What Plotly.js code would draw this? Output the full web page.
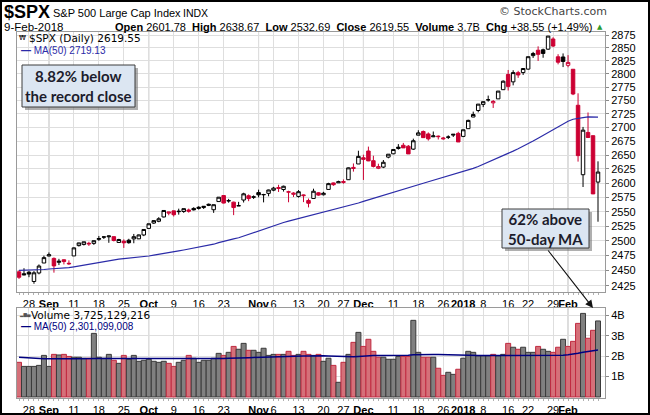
<!DOCTYPE html>
<html><head><meta charset="utf-8">
<script src="https://cdn.plot.ly/plotly-3.0.1.min.js"></script>
<style>
html,body{margin:0;padding:0;background:#fff;}
#wrap{position:relative;width:650px;height:415px;}
#chart{width:650px;height:415px;}
#frame{position:absolute;left:0;top:0;width:650px;height:415px;box-sizing:border-box;border:2px solid #000;pointer-events:none;}
</style>
</head><body><div id="wrap"><div id="chart"></div><div id="frame"></div></div>
<script>
// ---- data ----
const dates = ['2017-08-24','2017-08-25','2017-08-28','2017-08-29','2017-08-30','2017-08-31',
'2017-09-01','2017-09-05','2017-09-06','2017-09-07','2017-09-08','2017-09-11','2017-09-12','2017-09-13','2017-09-14','2017-09-15','2017-09-18','2017-09-19','2017-09-20','2017-09-21','2017-09-22','2017-09-25','2017-09-26','2017-09-27','2017-09-28','2017-09-29',
'2017-10-02','2017-10-03','2017-10-04','2017-10-05','2017-10-06','2017-10-09','2017-10-10','2017-10-11','2017-10-12','2017-10-13','2017-10-16','2017-10-17','2017-10-18','2017-10-19','2017-10-20','2017-10-23','2017-10-24','2017-10-25','2017-10-26','2017-10-27','2017-10-30','2017-10-31',
'2017-11-01','2017-11-02','2017-11-03','2017-11-06','2017-11-07','2017-11-08','2017-11-09','2017-11-10','2017-11-13','2017-11-14','2017-11-15','2017-11-16','2017-11-17','2017-11-20','2017-11-21','2017-11-22','2017-11-24','2017-11-27','2017-11-28','2017-11-29','2017-11-30',
'2017-12-01','2017-12-04','2017-12-05','2017-12-06','2017-12-07','2017-12-08','2017-12-11','2017-12-12','2017-12-13','2017-12-14','2017-12-15','2017-12-18','2017-12-19','2017-12-20','2017-12-21','2017-12-22','2017-12-26','2017-12-27','2017-12-28','2017-12-29',
'2018-01-02','2018-01-03','2018-01-04','2018-01-05','2018-01-08','2018-01-09','2018-01-10','2018-01-11','2018-01-12','2018-01-16','2018-01-17','2018-01-18','2018-01-19','2018-01-22','2018-01-23','2018-01-24','2018-01-25','2018-01-26','2018-01-29','2018-01-30','2018-01-31',
'2018-02-01','2018-02-02','2018-02-05','2018-02-06','2018-02-07','2018-02-08','2018-02-09'];

const opens = [2447.91,2444.72,2447.35,2431.94,2446.06,2462.65,
2474.42,2470.35,2463.83,2468.06,2462.25,2474.52,2491.94,2493.89,2494.56,2495.67,2502.51,2506.29,2506.84,2507.16,2497.26,2499.39,2501.04,2503.30,2503.41,2509.96,
2521.20,2530.34,2533.48,2540.86,2547.44,2551.39,2549.99,2550.34,2552.88,2555.66,2555.57,2557.17,2562.87,2553.39,2567.56,2578.08,2568.66,2566.52,2560.08,2570.26,2577.75,2575.99,
2583.21,2579.46,2581.93,2587.47,2592.11,2588.71,2584.00,2580.18,2576.53,2577.75,2569.45,2572.95,2582.94,2579.49,2588.79,2600.31,2600.42,2602.66,2605.94,2627.82,2633.93,
2645.10,2657.19,2639.78,2626.24,2628.38,2646.21,2652.19,2661.73,2667.59,2665.87,2660.63,2685.92,2692.71,2688.18,2683.02,2684.22,2679.09,2682.10,2686.10,2689.15,
2683.73,2697.85,2719.31,2731.33,2742.67,2751.15,2745.55,2752.97,2770.18,2798.96,2784.99,2802.40,2802.60,2809.16,2835.05,2845.42,2846.24,2847.48,2867.23,2832.74,2832.41,
2816.45,2808.92,2741.06,2614.78,2690.95,2685.01,2601.78];

const highs = [2450.39,2453.96,2449.12,2449.19,2460.31,2475.01,
2480.38,2471.97,2469.64,2468.62,2467.11,2488.95,2496.77,2498.37,2498.43,2500.23,2508.32,2507.84,2508.85,2507.16,2503.47,2502.54,2503.51,2511.75,2510.81,2519.44,
2529.23,2535.13,2540.53,2552.51,2549.41,2551.82,2555.23,2555.24,2555.33,2557.65,2559.47,2559.71,2564.11,2562.36,2575.44,2578.29,2572.18,2567.40,2567.07,2582.98,2580.03,2578.29,
2588.40,2581.11,2588.42,2593.38,2597.02,2595.47,2586.50,2583.81,2587.66,2579.66,2572.84,2590.09,2583.96,2584.64,2600.48,2600.94,2604.21,2606.41,2627.69,2634.89,2657.74,
2650.62,2665.19,2648.72,2634.41,2640.99,2651.65,2660.33,2669.72,2671.88,2668.09,2679.63,2694.97,2694.44,2691.01,2692.64,2685.35,2682.74,2685.64,2687.66,2692.12,
2695.89,2714.37,2729.29,2743.45,2748.51,2759.14,2750.80,2767.56,2787.85,2807.54,2807.04,2805.83,2810.33,2833.03,2842.24,2852.97,2848.56,2872.87,2870.62,2837.75,2839.26,
2835.96,2808.92,2763.39,2701.04,2727.67,2685.27,2638.67];

const lows = [2436.19,2442.22,2439.03,2428.20,2443.77,2462.65,
2473.85,2446.55,2459.20,2460.29,2459.40,2474.52,2490.37,2492.14,2491.35,2493.16,2499.92,2503.19,2496.67,2499.00,2496.54,2488.03,2495.12,2495.91,2502.93,2507.99,
2520.40,2528.85,2531.80,2540.02,2543.79,2541.60,2544.86,2547.95,2548.31,2552.09,2553.59,2554.69,2559.67,2547.92,2567.56,2564.33,2565.58,2544.00,2559.80,2565.94,2568.25,2572.15,
2574.92,2566.17,2576.77,2585.66,2584.35,2585.02,2566.33,2575.57,2574.48,2566.56,2557.45,2572.95,2577.62,2578.24,2588.79,2595.23,2600.42,2598.87,2605.44,2620.32,2633.93,
2605.52,2639.03,2627.73,2624.75,2626.53,2644.10,2651.47,2659.78,2662.85,2652.01,2659.14,2685.92,2680.74,2676.11,2682.40,2678.13,2677.96,2678.91,2682.69,2673.61,
2682.36,2697.77,2719.07,2727.92,2737.60,2747.86,2736.06,2752.78,2769.64,2768.64,2778.38,2792.56,2798.08,2808.12,2830.59,2824.81,2830.94,2846.18,2851.48,2818.27,2813.04,
2812.70,2759.97,2638.17,2593.07,2681.33,2580.56,2532.69];

const closes = [2438.97,2443.05,2444.24,2446.30,2457.59,2471.65,
2476.55,2457.85,2465.54,2465.10,2461.43,2488.11,2496.48,2498.37,2495.62,2500.23,2503.87,2506.65,2508.24,2500.60,2502.22,2496.66,2496.84,2507.04,2510.06,2519.36,
2529.12,2534.58,2537.74,2552.07,2549.33,2544.73,2550.64,2555.24,2550.93,2553.17,2557.64,2559.36,2561.26,2562.10,2575.21,2564.98,2569.13,2557.15,2560.40,2581.07,2572.83,2575.26,
2579.36,2579.85,2587.84,2591.13,2590.64,2594.38,2584.62,2582.30,2584.84,2578.87,2564.62,2585.64,2578.85,2582.14,2599.03,2597.08,2602.42,2601.42,2627.04,2626.07,2647.58,
2642.22,2639.44,2629.57,2629.27,2636.98,2651.50,2659.99,2664.11,2662.85,2652.01,2675.81,2690.16,2681.47,2679.25,2684.57,2683.34,2680.50,2682.62,2687.54,2673.61,
2695.81,2713.06,2723.99,2743.15,2747.71,2751.29,2748.23,2767.56,2786.24,2776.42,2802.56,2798.03,2810.30,2832.97,2839.13,2837.54,2839.25,2872.87,2853.53,2822.43,2823.81,
2821.98,2762.13,2648.94,2695.14,2681.66,2581.00,2619.55];

const closeBeforeFirst = 2444.04;

// 50-day simple moving average of the close
const priceMA50 = [2450.38,2450.59,2450.82,2450.67,2451.08,2451.80,
2452.65,2453.04,2453.57,2454.48,2454.90,2456.26,2457.72,2459.11,2460.37,2462.18,2463.76,2465.34,2467.00,2468.14,2469.23,2469.98,2470.73,2471.66,2472.39,2473.30,
2474.44,2475.73,2476.94,2478.43,2479.90,2481.36,2482.96,2484.54,2486.01,2487.63,2489.24,2490.81,2492.54,2494.30,2497.04,2499.52,2501.58,2503.43,2505.28,2508.30,2511.24,2514.18,
2516.72,2519.44,2522.41,2525.37,2528.30,2531.26,2533.80,2536.02,2538.18,2540.60,2542.59,2545.00,2547.34,2549.23,2551.28,2553.25,2555.39,2557.41,2559.87,2562.26,2565.05,
2567.88,2570.63,2573.28,2575.93,2578.53,2581.36,2584.17,2586.87,2589.44,2591.72,2594.20,2597.01,2599.75,2602.32,2604.91,2607.56,2610.10,2612.60,2615.17,2617.41,
2620.09,2622.84,2626.02,2629.51,2633.32,2637.13,2640.48,2644.37,2648.59,2652.53,2656.99,2661.19,2665.57,2670.42,2675.32,2680.37,2685.51,2691.27,2696.77,2701.92,2706.69,
2711.55,2715.15,2716.15,2718.11,2719.69,2719.28,2719.13];

// volume, billions of shares
const volumes = [1.70,1.50,1.50,1.50,1.55,2.04,
1.50,2.09,2.06,2.09,1.99,1.95,1.95,1.90,1.90,3.12,1.95,1.90,2.09,1.80,1.65,2.04,1.85,2.04,1.75,1.80,
1.85,1.75,1.70,1.75,1.65,1.50,1.70,1.80,2.04,1.90,1.70,1.80,1.80,1.90,2.14,2.04,2.19,2.48,2.34,2.63,2.29,2.29,
2.19,2.39,2.04,2.09,2.09,2.09,2.24,2.04,2.09,2.24,2.09,2.04,2.09,1.75,1.90,1.55,0.72,1.70,2.09,2.68,3.17,
2.48,2.83,2.24,1.95,1.95,1.85,1.85,1.99,1.99,1.99,3.76,2.19,1.95,1.95,1.95,1.41,1.06,1.21,1.11,1.36,
1.90,2.24,2.19,2.02,2.02,2.02,2.09,2.02,2.09,2.63,2.44,2.34,2.44,2.19,2.19,2.48,2.34,2.24,2.19,2.44,2.83,
2.48,2.73,3.61,4.10,2.88,3.27,3.73];

const volumeMA50 = [1.95,1.93,1.91,1.89,1.88,1.88,
1.88,1.87,1.87,1.87,1.87,1.87,1.88,1.88,1.88,1.89,1.89,1.89,1.89,1.88,1.88,1.88,1.88,1.88,1.88,1.88,
1.87,1.87,1.87,1.87,1.87,1.86,1.86,1.86,1.86,1.86,1.86,1.87,1.88,1.88,1.89,1.89,1.90,1.90,1.91,1.92,1.93,1.94,
1.95,1.96,1.96,1.97,1.98,1.99,1.99,2.00,2.00,2.01,2.01,2.02,2.02,2.02,2.01,2.00,1.97,1.96,1.96,1.97,1.99,
2.01,2.02,2.03,2.03,2.03,2.04,2.04,2.05,2.05,2.05,2.07,2.08,2.08,2.08,2.08,2.08,2.07,2.06,2.05,2.04,
2.04,2.03,2.03,2.03,2.03,2.03,2.03,2.03,2.03,2.03,2.03,2.03,2.03,2.03,2.03,2.03,2.03,2.03,2.03,2.04,2.05,
2.07,2.09,2.14,2.19,2.24,2.27,2.30];

const xTickDays = [2,6,11,16,21,26,31,36,41,48,51,56,61,65,69,75,80,85,89,93,98,102,107,110];
const xTickText = ['28','<b>Sep</b>','11','18','25','<b>Oct</b>','9','16','23','<b>Nov</b>','6','13','20','27','<b>Dec</b>','11','18','26','<b>2018</b>','8','16','22','29','<b>Feb</b>'];
const monthStartDays = [6,26,48,69,89,110];
const priceTicks = [2425,2450,2475,2500,2525,2550,2575,2600,2625,2650,2675,2700,2725,2750,2775,2800,2825,2850,2875];
const volTicks = [1,2,3,4];
const volTickText = ['1B','2B','3B','4B'];

// ---- build ----
const idx = dates.map((d, i) => i);
const prev = closes.map((c, i) => i === 0 ? closeBeforeFirst : closes[i - 1]);
const isUp = closes.map((c, i) => c >= prev[i]);

const RED = '#cc0033';
function subset(arr, want) { return arr.filter((v, i) => isUp[i] === want); }
function candle(want, col) {
  return {
    type: 'candlestick', xaxis: 'x', yaxis: 'y',
    x: subset(idx, want), open: subset(opens, want), high: subset(highs, want),
    low: subset(lows, want), close: subset(closes, want),
    text: subset(dates, want), hoverinfo: 'text+y',
    increasing: {line: {color: col, width: 1}, fillcolor: '#ffffff'},
    decreasing: {line: {color: col, width: 1}, fillcolor: col},
    whiskerwidth: 0, showlegend: false
  };
}

const traces = [
  {type: 'scatter', mode: 'lines', x: idx, y: priceMA50, xaxis: 'x', yaxis: 'y',
   line: {color: '#2b2ba8', width: 1.2}, hoverinfo: 'skip'},
  candle(true, '#000000'),
  candle(false, RED),
  {type: 'bar', x: idx, y: volumes, xaxis: 'x2', yaxis: 'y2',
   marker: {color: isUp.map(u => u ? '#808080' : '#d57079'),
            line: {color: isUp.map(u => u ? '#3a3a3a' : '#c02a40'), width: 1}},
   hoverinfo: 'skip'},
  {type: 'scatter', mode: 'lines', x: idx, y: volumeMA50, xaxis: 'x2', yaxis: 'y2',
   line: {color: '#000080', width: 1.5}, hoverinfo: 'skip'}
];

// layout geometry (pixels)
const L = 17, R = 45, T = 32, B = 17, W = 650, H = 415;
const pw = W - L - R, ph = H - T - B;
const px = x => (x - L) / pw;
const py = y => (H - B - y) / ph;

const tickFont = {family: 'Liberation Sans, Arial, sans-serif', size: 11, color: '#000'};
const xCommon = {
  range: [-0.4, 117.4], tickmode: 'array', tickvals: xTickDays, ticktext: xTickText, tickangle: 0,
  showgrid: true, gridcolor: '#dedede', gridwidth: 1, zeroline: false,
  ticks: 'outside', ticklen: 2, tickcolor: '#aaaaaa', ticklabelstandoff: 0,
  showline: true, mirror: true, linecolor: '#9a9a9a', linewidth: 1,
  tickfont: tickFont, fixedrange: true,
  minor: {tickvals: idx, ticks: 'outside', ticklen: 2, tickcolor: '#b0b0b0', showgrid: false}
};

const shapes = [];
monthStartDays.forEach(d => {
  shapes.push({type: 'line', xref: 'x', yref: 'y domain', x0: d, x1: d, y0: 0, y1: 1,
               line: {color: '#b4b4b4', width: 1}, layer: 'below'});
  shapes.push({type: 'line', xref: 'x2', yref: 'y2 domain', x0: d, x1: d, y0: 0, y1: 1,
               line: {color: '#b4b4b4', width: 1}, layer: 'below'});
});
function box(x0, y0, x1, y1) {
  shapes.push({type: 'rect', xref: 'paper', yref: 'paper', x0: px(x0 + 3), x1: px(x1 + 3), y0: py(y1 + 3), y1: py(y0 + 3),
               fillcolor: 'rgba(110,110,110,0.55)', line: {width: 0}, layer: 'above'});
  shapes.push({type: 'rect', xref: 'paper', yref: 'paper', x0: px(x0), x1: px(x1), y0: py(y1), y1: py(y0),
               fillcolor: '#dce6f2', line: {color: '#3c3c3c', width: 1}, layer: 'above'});
}
box(22, 65, 135, 107);
box(502, 209, 589, 248);

function ann(x, y, text, font, xanchor, extra) {
  return Object.assign({xref: 'paper', yref: 'paper', x: px(x), y: py(y), text: text,
    showarrow: false, xanchor: xanchor || 'left', yanchor: 'middle', font: font, borderpad: 0}, extra || {});
}
const boxFont = {family: 'Lato, Open Sans, sans-serif', size: 15, color: '#1c1c2c'};
const annotations = [
  ann(3, 12, '<b>$SPX</b>', {family: 'Liberation Sans, Arial', size: 18, color: '#000'}),
  ann(52, 13, 'S&P 500 Large Cap Index', {family: 'Liberation Sans, Arial', size: 11, color: '#000'}),
  ann(182, 13, 'INDX', {family: 'Liberation Sans, Arial', size: 10.5, color: '#000'}),
  ann(608, 12, '© StockCharts.com', {family: 'DejaVu Sans, Verdana', size: 11, color: '#444'}, 'right'),
  ann(3, 27, '9-Feb-2018', {family: 'Liberation Sans, Arial', size: 11.5, color: '#000'}),
  ann(593, 27, '<b>Open</b> 2601.78  <b>High</b> 2638.67  <b>Low</b> 2532.69  <b>Close</b> 2619.55  <b>Volume</b> 3.7B  <b>Chg</b> +38.55 (+1.49%)',
      {family: 'Liberation Sans, Arial', size: 11, color: '#000'}, 'right'),
  ann(600, 27, '▲', {family: 'DejaVu Sans', size: 7, color: '#2e9a2e'}, 'center'),
  ann(18, 38.5, '₩', {family: 'DejaVu Sans', size: 7, color: '#000'}),
  ann(28, 38.5, '$SPX (Daily) 2619.55', {family: 'DejaVu Sans, Verdana', size: 10.5, color: '#000'}),
  ann(20, 50.5, '<b>—</b> MA(50) 2719.13', {family: 'Liberation Sans, Arial', size: 10, color: '#2b2ba8'}),
  ann(18, 315, '▂▆▄', {family: 'DejaVu Sans', size: 4.5, color: '#555'}),
  ann(30, 315, 'Volume 3,725,129,216', {family: 'DejaVu Sans, Verdana', size: 10.5, color: '#000'}),
  ann(20, 326.5, '<b>—</b> MA(50) 2,301,099,008', {family: 'Liberation Sans, Arial', size: 10, color: '#000080'}),
  ann(78.5, 86, '<b>8.82% below<br>the record close</b>', boxFont, 'center'),
  ann(545.5, 229, '<b>62% above<br>50-day MA</b>', boxFont, 'center'),
  {xref: 'paper', yref: 'paper', x: px(593), y: py(308), text: '', showarrow: true,
   ax: -46, ay: -59, arrowhead: 2, arrowsize: 1.4, arrowwidth: 1.1, arrowcolor: '#111', standoff: 0}
];

const layout = {
  width: W, height: H, margin: {l: L, r: R, t: T, b: B},
  paper_bgcolor: '#ffffff', plot_bgcolor: '#ffffff', showlegend: false,
  boxgap: 0.3, boxgroupgap: 0, bargap: 0, barmode: 'overlay',
  xaxis: Object.assign({}, xCommon, {anchor: 'y', domain: [0, 1], rangeslider: {visible: false}}),
  xaxis2: Object.assign({}, xCommon, {anchor: 'y2', domain: [0, 1], matches: 'x', rangeslider: {visible: false}}),
  yaxis: {domain: [py(292), 1], type: 'log', range: [3.382854, 3.459523], side: 'right',
          tickmode: 'array', tickvals: priceTicks, ticktext: priceTicks.map(String),
          ticks: 'outside', ticklen: 3, tickcolor: '#8a8a8a', gridcolor: '#dedede', zeroline: false,
          showline: true, mirror: true, linecolor: '#9a9a9a', tickfont: tickFont, fixedrange: true},
  yaxis2: {domain: [0, py(308.3)], range: [-0.05, 4.35], side: 'right',
           tickmode: 'array', tickvals: volTicks, ticktext: volTickText,
           ticks: 'outside', ticklen: 3, tickcolor: '#8a8a8a', gridcolor: '#dedede', zeroline: false,
           showline: true, mirror: true, linecolor: '#9a9a9a', tickfont: tickFont, fixedrange: true},
  shapes: shapes, annotations: annotations
};

Plotly.newPlot('chart', traces, layout, {displayModeBar: false, staticPlot: true});
</script>
</body></html>
